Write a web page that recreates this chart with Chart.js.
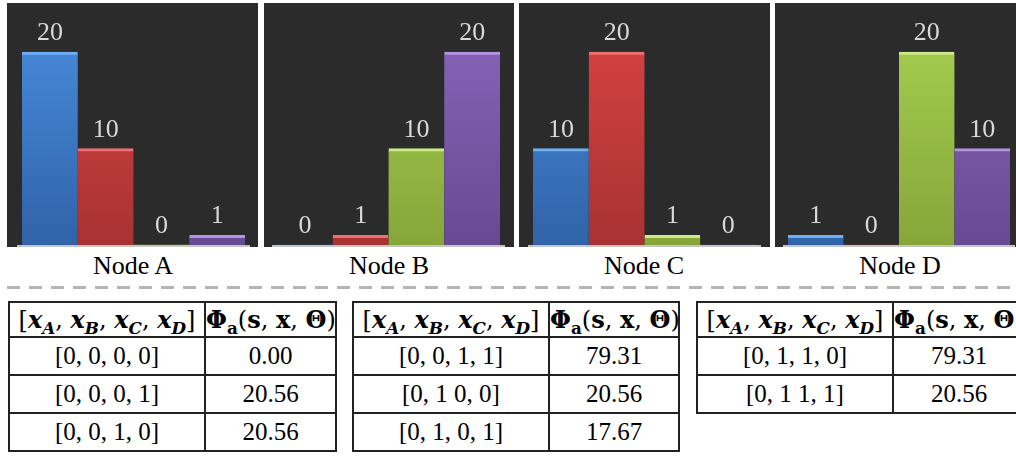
<!DOCTYPE html>
<html>
<head>
<meta charset="utf-8">
<script src="https://cdn.jsdelivr.net/npm/chart.js@4.4.1/dist/chart.umd.min.js"></script>
<style>
html, body { margin: 0; padding: 0; background: #fff; width: 1016px; height: 457px; overflow: hidden; position: relative; }
.panel { position: absolute; top: 3px; height: 244px; background: #2b2b2b; }
.panel canvas { position: absolute; left: 0; top: 0; }
.node { position: absolute; top: 253px; width: 200px; text-align: center;
        font-family: "Liberation Serif", "Times New Roman", Times, serif; font-size: 26px; line-height: 26px; color: #000; }
.dash { position: absolute; left: 7px; top: 286px; width: 1009px; height: 3px;
        background: repeating-linear-gradient(to right, #b4b4b4 0 13px, transparent 13px 22px); }
table { position: absolute; top: 301px; border-collapse: collapse; table-layout: fixed; }
td { border: 2px solid #222; text-align: center; vertical-align: middle; padding: 0;
     font-family: "Liberation Serif", "Times New Roman", Times, serif; font-size: 25px; color: #000; height: 36px; white-space: nowrap; overflow: hidden; }
tr.head td { height: 33px; font-family: "DejaVu Serif", serif; font-size: 24px; }
sub { font-size: 70%; line-height: 0; }
</style>
</head>
<body>
<div id="root"></div>
<div class="dash"></div>
<script>
// valores de las barras por nodo
const categories = ['xA', 'xB', 'xC', 'xD'];
const nodeNames = ['Node A', 'Node B', 'Node C', 'Node D'];
const nodeA = [20, 10, 0, 1];
const nodeB = [0, 1, 10, 20];
const nodeC = [10, 20, 1, 0];
const nodeD = [1, 0, 20, 10];
const yMax = 25;

// tablas
const table1States = ['[0, 0, 0, 0]', '[0, 0, 0, 1]', '[0, 0, 1, 0]'];
const table1Phi = ['0.00', '20.56', '20.56'];
const table2States = ['[0, 0, 1, 1]', '[0, 1 0, 0]', '[0, 1, 0, 1]'];
const table2Phi = ['79.31', '20.56', '17.67'];
const table3States = ['[0, 1, 1, 0]', '[0, 1 1, 1]'];
const table3Phi = ['79.31', '20.56'];

// colores: [arriba, abajo, bisel]
const barColors = [
    ['#4a8fe0', '#3063a8', '#6eb0f6'],
    ['#dc4444', '#a83232', '#f07070'],
    ['#a9d252', '#86a63a', '#cbeb84'],
    ['#8c66bb', '#674a93', '#b391e3']
];

const panels = [
    { left: 7,   width: 251, pl: 15, pr: 13, center: 133 },
    { left: 264, width: 250, pl: 13, pr: 14, center: 389 },
    { left: 519, width: 251, pl: 14, pr: 14, center: 644 },
    { left: 775, width: 251, pl: 13, pr: 16, center: 900 }
];

const root = document.getElementById('root');

const valueLabels = {
    id: 'valueLabels',
    afterDatasetsDraw(chart) {
        const c = chart.ctx;
        const meta = chart.getDatasetMeta(0);
        const data = chart.data.datasets[0].data;
        c.save();
        c.font = '26px "Liberation Serif", "Times New Roman", serif';
        c.fillStyle = '#d9d9d9';
        c.textAlign = 'center';
        c.textBaseline = 'alphabetic';
        meta.data.forEach((bar, i) => {
            c.fillText(String(data[i]), bar.x, bar.y - 12);
        });
        c.restore();
    }
};

const baseLine = {
    id: 'baseLine',
    afterDatasetsDraw(chart) {
        const c = chart.ctx;
        const a = chart.chartArea;
        c.save();
        c.strokeStyle = '#c4c4c4';
        c.lineWidth = 2;
        c.beginPath();
        c.moveTo(a.left - 5, a.bottom + 1);
        c.lineTo(a.right + 5, a.bottom + 1);
        c.stroke();
        c.restore();
    }
};

function gradientFor(ctx) {
    const cols = barColors[ctx.dataIndex];
    const area = ctx.chart.chartArea;
    if (!area) return cols[0];
    const g = ctx.chart.ctx.createLinearGradient(0, area.top, 0, area.bottom);
    g.addColorStop(0, cols[0]);
    g.addColorStop(1, cols[1]);
    return g;
}

[nodeA, nodeB, nodeC, nodeD].forEach((values, n) => {
    const p = panels[n];
    const div = document.createElement('div');
    div.className = 'panel';
    div.style.left = p.left + 'px';
    div.style.width = p.width + 'px';
    const canvas = document.createElement('canvas');
    canvas.width = p.width;
    canvas.height = 244;
    div.appendChild(canvas);
    root.appendChild(div);

    new Chart(canvas.getContext('2d'), {
        type: 'bar',
        data: {
            labels: categories,
            datasets: [{
                data: values,
                backgroundColor: gradientFor,
                borderColor: ctx => barColors[ctx.dataIndex][2],
                borderWidth: ctx => (ctx.raw > 0 ? { top: 3, left: 0, right: 0, bottom: 0 } : 0),
                borderSkipped: 'start',
                barPercentage: 1,
                categoryPercentage: 1
            }]
        },
        options: {
            responsive: false,
            animation: false,
            layout: { padding: { left: p.pl, right: p.pr, top: 1, bottom: 2 } },
            plugins: { legend: { display: false }, tooltip: { enabled: false } },
            scales: {
                x: { display: false },
                y: { display: false, min: 0, max: yMax }
            }
        },
        plugins: [valueLabels, baseLine]
    });

    const lbl = document.createElement('div');
    lbl.className = 'node';
    lbl.style.left = (p.center - 100) + 'px';
    lbl.textContent = nodeNames[n];
    root.appendChild(lbl);
});

function headerHtml() {
    const xs = ['A', 'B', 'C', 'D'].map(s => `<b><i>x<sub>${s}</sub></i></b>`).join(', ');
    return `<td>[${xs}]</td><td><b>Φ<sub>a</sub></b>(<b>s</b>, <b>x</b>, <b>Θ</b>)</td>`;
}

function makeTable(left, widths, states, phi) {
    const t = document.createElement('table');
    t.style.left = left + 'px';
    t.style.width = (widths[0] + widths[1]) + 'px';
    let html = `<colgroup><col style="width:${widths[0]}px"><col style="width:${widths[1]}px"></colgroup>`;
    html += `<tr class="head">${headerHtml()}</tr>`;
    states.forEach((s, i) => {
        html += `<tr><td>${s}</td><td>${phi[i]}</td></tr>`;
    });
    t.innerHTML = html;
    root.appendChild(t);
}

makeTable(8, [196, 131], table1States, table1Phi);
makeTable(352, [196, 130], table2States, table2Phi);
makeTable(696, [196, 132], table3States, table3Phi);
</script>
</body>
</html>
